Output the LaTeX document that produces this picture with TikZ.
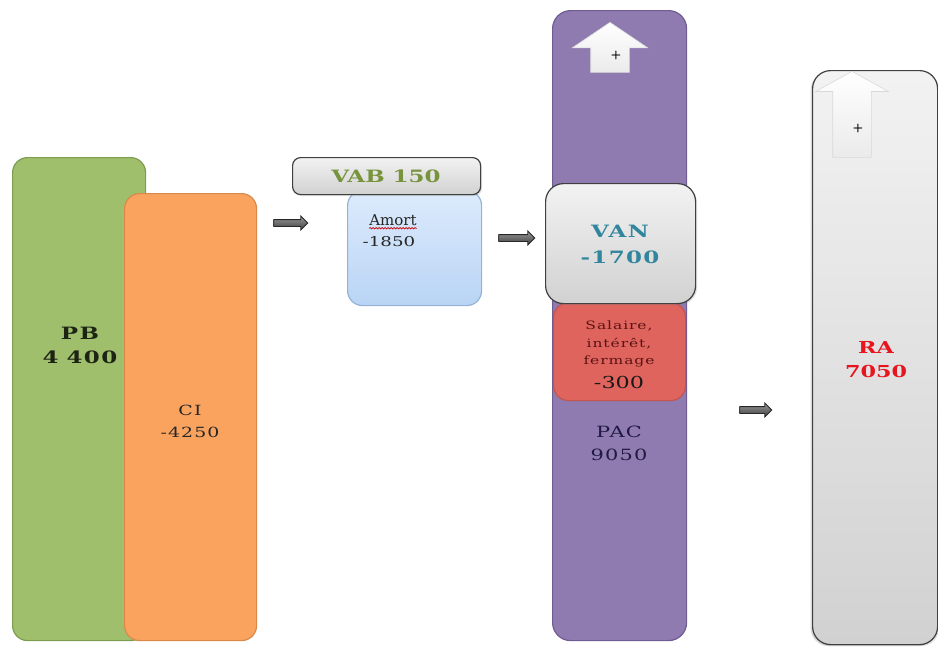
\documentclass[tikz,border=0pt]{standalone}
\usepackage{fontspec}
\usetikzlibrary{shapes.arrows,shadows,decorations.pathmorphing}
\newfontfamily\cb[FakeStretch=1.35]{DejaVu Serif}
\newfontfamily\cbs[FakeStretch=1.35,LetterSpace=8]{DejaVu Serif}
\newfontfamily\cbn{DejaVu Serif}
\definecolor{pbfill}{HTML}{A0BF6C}
\definecolor{pbdraw}{HTML}{7E9C4E}
\definecolor{cifill}{HTML}{F9A35F}
\definecolor{cidraw}{HTML}{D98A4A}
\definecolor{pacfill}{HTML}{8F7BB0}
\definecolor{pacdraw}{HTML}{6E5C92}
\definecolor{salfill}{HTML}{DF645D}
\definecolor{saldraw}{HTML}{C4544E}
\definecolor{amtop}{HTML}{DDEBFC}
\definecolor{ambot}{HTML}{B9D4F5}
\definecolor{amdraw}{HTML}{95B3D7}
\definecolor{vabtxt}{HTML}{77933C}
\definecolor{vantxt}{HTML}{31859C}
\definecolor{ratxt}{HTML}{E8141E}
\definecolor{saltxt}{HTML}{5A1414}
\definecolor{pactxt}{HTML}{201A42}
\definecolor{darktxt}{HTML}{1E2414}
\tikzset{
  col/.style={rounded corners=15pt, line width=1.2pt, inner sep=0pt, anchor=north west},
  graybox/.style={rounded corners=#1, draw=black!75, line width=1.2pt, top color=white!95!black, bottom color=black!18, inner sep=0pt, anchor=north west, drop shadow={opacity=0.25, shadow xshift=1.5pt, shadow yshift=-1.5pt}},
  txt/.style={align=center, inner sep=0pt, font=\cb},
  blockarrow/.style={single arrow, draw=black!85, line width=0.8pt, top color=black!40, bottom color=black!75, minimum height=#1, inner xsep=0pt, inner ysep=3pt, single arrow head extend=3.5pt, single arrow tip angle=90},
  uparrow/.style={single arrow, rotate=90, draw=black!15, line width=0.6pt, top color=white, bottom color=black!8, inner xsep=0pt, anchor=tip},
}
\begin{document}
\begin{tikzpicture}[x=1pt,y=-1pt]
\useasboundingbox (0,0) rectangle (938,646);
% left columns
\node[col, fill=pbfill, draw=pbdraw, minimum width=133pt, minimum height=483pt] (pb) at (12,157) {};
\node[col, fill=cifill, draw=cidraw, minimum width=132pt, minimum height=447pt] (ci) at (124,193) {};
\node[txt, text=darktxt, font=\cbs\bfseries\fontsize{17}{24}\selectfont] (pbt) at (80,345) {PB\\4\hspace{8pt}400};
\node[txt, text=black!85, font=\cbs\fontsize{14}{22}\selectfont] (cit) at (190,421) {CI\\-4250};
% arrow 1
\node[blockarrow=34pt] (a1) at (289,223) {};
% Amort and VAB
\node[col, top color=amtop, bottom color=ambot, draw=amdraw, minimum width=134pt, minimum height=115pt] (am) at (347,190) {};
\node[graybox=8pt, minimum width=188pt, minimum height=37pt] (vab) at (292,157) {};
\node[txt, text=vabtxt, font=\cb\bfseries\fontsize{17}{20}\selectfont] (vabt) at (386,176) {VAB 150};
\node[txt, text=black!85, font=\cbn\fontsize{15}{20}\selectfont] (amt1) at (393,220) {Amort};
\node[txt, text=black!85, font=\cb\fontsize{13.5}{20}\selectfont] (amt2) at (389,242) {-1850};
\draw[red!80!black, line width=0.7pt, decorate, decoration={snake, amplitude=0.7pt, segment length=3pt}] ([yshift=-2.5pt]amt1.south west) -- ([yshift=-2.5pt]amt1.south east);
% arrow 2
\node[blockarrow=36pt] (a2) at (515,238) {};
% PAC column
\node[col, rounded corners=18pt, fill=pacfill, draw=pacdraw, minimum width=134pt, minimum height=630pt] (pac) at (552,10) {};
\node[uparrow, minimum height=50pt, inner ysep=19pt, single arrow head extend=18.5pt, single arrow tip angle=112] (up1) at (610,22) {};
\node[txt, font=\sffamily\bfseries\fontsize{12}{12}\selectfont] (plus1) at (616,55) {+};
\node[col, fill=salfill, draw=saldraw, minimum width=132pt, minimum height=98pt] (sal) at (553,302) {};
\node[graybox=18pt, minimum width=150pt, minimum height=120pt] (van) at (545,183) {};
\node[txt, text=vantxt, font=\cbs\bfseries\fontsize{17}{26}\selectfont] (vant) at (620,244) {VAN\\-1700};
\node[txt, text=saltxt, font=\cbs\fontsize{11.5}{17.5}\selectfont] (salt) at (619,344) {Salaire,\\intérêt,\\fermage};
\node[txt, text=black!90, font=\cb\fontsize{16.5}{16}\selectfont] (salv) at (619,382) {-300};
\node[txt, text=pactxt, font=\cbs\fontsize{15.5}{23}\selectfont] (pact) at (619,443) {PAC\\9050};
% arrow 3
\node[blockarrow=32pt] (a3) at (754,410) {};
% RA column
\node[graybox=18pt, minimum width=125pt, minimum height=574pt, drop shadow={opacity=0.3, shadow xshift=-2pt, shadow yshift=-1.5pt}] (ra) at (812,70) {};
\node[uparrow, minimum height=86pt, inner ysep=19pt, single arrow head extend=17pt, single arrow tip angle=122] (up2) at (852,71) {};
\node[txt, font=\sffamily\bfseries\fontsize{12}{12}\selectfont] (plus2) at (858,128) {+};
\node[txt, text=ratxt, font=\cb\bfseries\fontsize{16.5}{24}\selectfont] (rat) at (876,360) {RA\\7050};
\end{tikzpicture}
\end{document}
